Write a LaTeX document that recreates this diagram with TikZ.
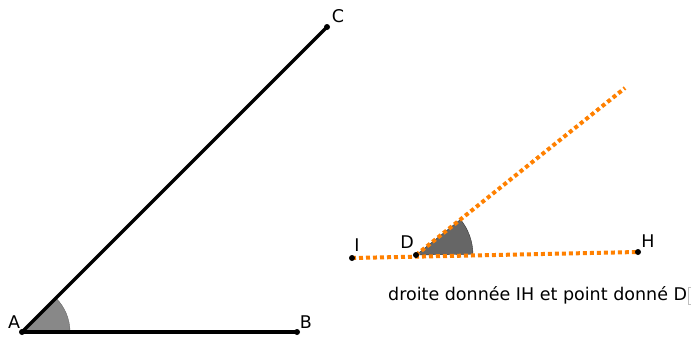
\documentclass[tikz,border=0pt]{standalone}
\usepackage{fontspec}
\setmainfont{DejaVu Sans}
\usepackage[dvipsnames]{xcolor}
\definecolor{rayorange}{RGB}{255,128,0}
\definecolor{anglegray}{RGB}{136,136,136}
\definecolor{angledark}{RGB}{102,102,102}
\tikzset{
 pt/.style={circle,fill=black,inner sep=0pt,minimum size=6pt},
 lbl/.style={font=\fontsize{17.5}{20}\selectfont,inner sep=0pt},
 dotline/.style={rayorange,line width=4pt,dash pattern=on 4pt off 3pt}
}

\begin{document}
\begin{tikzpicture}[x=1pt,y=-1pt]
 \useasboundingbox (0,0) rectangle (694,338);
 % given angle
 \coordinate (A) at (22,332);
 \coordinate (B) at (297,332);
 \coordinate (C) at (327,27);
 \fill[anglegray,draw=angledark,thin] (A) -- ++(0:48) arc[start angle=0,end angle=-45,radius=48] -- cycle;
 \draw[line width=3.5pt,line cap=round] (A) -- (B);
 \draw[line width=3.5pt,line cap=round] (A) -- (C);
 \node[pt] at (A) {};
 \node[pt] at (B) {};
 \node[pt] at (C) {};
 \node[lbl] (la) at (14,322) {A};
 \node[lbl] (lb) at (306,322) {B};
 \node[lbl] (lc) at (338,16) {C};
 % line IH and point D
 \coordinate (I) at (352,258);
 \coordinate (D) at (416,255);
 \coordinate (H) at (638,252);
 \coordinate (E) at (625,88);
 \fill[angledark,draw=black!80,thin] (D) -- ++(-0.8:57) arc[start angle=-0.8,end angle=-38.6,radius=57] -- cycle;
 \draw[dotline] (I) -- (H);
 \draw[dotline] (D) -- (E);
 \node[pt] at (I) {};
 \node[pt] at (D) {};
 \node[pt] at (H) {};
 \node[lbl] (li) at (357,245) {I};
 \node[lbl] (ld) at (407,242) {D};
 \node[lbl] (lh) at (648,241) {H};
 \node[lbl,anchor=west] (txt) at (388,295) {droite donnée IH et point donné D};
 \draw[black!25,thin] (691,287) -- (688,287) -- (688,304) -- (691,304);
\end{tikzpicture}
\end{document}
